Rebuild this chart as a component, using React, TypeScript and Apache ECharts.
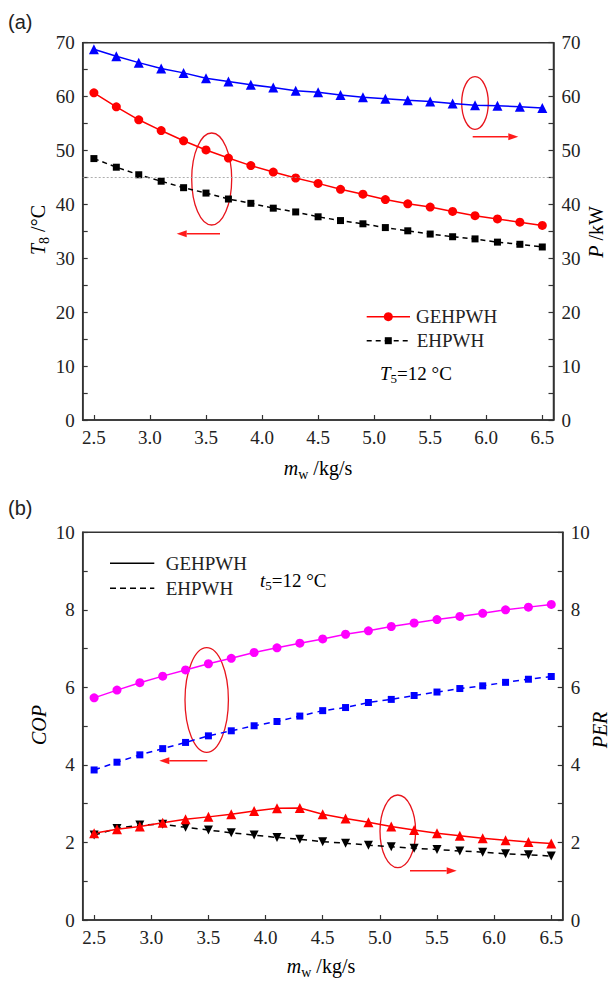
import React, { useEffect, useRef } from "react";
import * as echarts from "echarts";

// ---- data ----
const massFlow = [2.5, 2.7, 2.9, 3.1, 3.3, 3.5, 3.7, 3.9, 4.1, 4.3, 4.5, 4.7, 4.9, 5.1, 5.3, 5.5, 5.7, 5.9, 6.1, 6.3, 6.5];
const xTicks = [2.5, 3.0, 3.5, 4.0, 4.5, 5.0, 5.5, 6.0, 6.5];
// panel (a)
const powerGEHPWH = [68.8, 67.5, 66.3, 65.2, 64.4, 63.4, 62.8, 62.2, 61.7, 61.1, 60.8, 60.3, 59.9, 59.6, 59.3, 59.1, 58.7, 58.4, 58.3, 58.1, 57.9];
const t8GEHPWH = [60.7, 58.1, 55.7, 53.7, 51.8, 50.1, 48.6, 47.2, 46.0, 44.9, 43.9, 42.8, 41.9, 40.9, 40.1, 39.5, 38.7, 37.9, 37.3, 36.7, 36.1];
const t8EHPWH = [48.5, 46.9, 45.5, 44.3, 43.1, 42.1, 41.0, 40.2, 39.3, 38.6, 37.7, 37.0, 36.4, 35.7, 35.1, 34.5, 34.0, 33.6, 33.0, 32.6, 32.1];
const t8Reference = 45;
// panel (b)
const copGEHPWH = [5.73, 5.93, 6.12, 6.29, 6.45, 6.61, 6.75, 6.9, 7.02, 7.14, 7.25, 7.37, 7.46, 7.57, 7.66, 7.75, 7.83, 7.91, 8.0, 8.07, 8.14];
const copEHPWH = [3.87, 4.07, 4.26, 4.42, 4.58, 4.75, 4.88, 5.01, 5.12, 5.26, 5.4, 5.48, 5.61, 5.69, 5.79, 5.88, 5.97, 6.04, 6.13, 6.21, 6.28];
const perGEHPWH = [2.24, 2.34, 2.41, 2.51, 2.6, 2.66, 2.73, 2.81, 2.88, 2.89, 2.73, 2.62, 2.52, 2.41, 2.32, 2.24, 2.17, 2.11, 2.06, 2.01, 1.97];
const perEHPWH = [2.19, 2.36, 2.45, 2.47, 2.39, 2.32, 2.25, 2.19, 2.13, 2.08, 2.02, 1.98, 1.93, 1.89, 1.85, 1.82, 1.78, 1.75, 1.71, 1.68, 1.65];

const SERIF = "Liberation Serif";
const AX = "#333";

const pairs = (ys: number[]) => massFlow.map((x, i) => [x, ys[i]]);

function xAxisFor(gridIndex: number) {
  return {
    type: "value",
    gridIndex,
    min: 2.4,
    max: 6.6,
    axisLine: { show: true, lineStyle: { color: AX, width: 1.5 } },
    axisTick: { show: true, inside: true, length: 5, customValues: xTicks, lineStyle: { color: AX, width: 1.2 } },
    axisLabel: {
      customValues: xTicks,
      formatter: (v: number) => v.toFixed(1),
      fontFamily: SERIF,
      fontSize: 19,
      color: "#222",
      margin: 8,
    },
    splitLine: { show: false },
  };
}

function yAxisFor(gridIndex: number, position: string, max: number, interval: number) {
  return {
    type: "value",
    gridIndex,
    position,
    min: 0,
    max,
    interval,
    axisLine: { show: true, onZero: false, lineStyle: { color: AX, width: 1.5 } },
    axisTick: { show: true, inside: true, length: 5, lineStyle: { color: AX, width: 1.2 } },
    minorTick: { show: true, splitNumber: 2, length: 5, lineStyle: { color: AX, width: 1.2 } },
    axisLabel: { fontFamily: SERIF, fontSize: 19, color: "#222", margin: 8 },
    splitLine: { show: false },
    minorSplitLine: { show: false },
  };
}

const richBase = {
  i: { fontFamily: SERIF, fontStyle: "italic", fontSize: 20, lineHeight: 26, color: "#222" },
  s: { fontFamily: SERIF, fontSize: 14, lineHeight: 14, verticalAlign: "bottom", color: "#222" },
  n: { fontFamily: SERIF, fontSize: 20, lineHeight: 26, color: "#222" },
};
const richLegend = {
  i: { fontFamily: SERIF, fontStyle: "italic", fontSize: 19, lineHeight: 24, color: "#222" },
  s: { fontFamily: SERIF, fontSize: 13, lineHeight: 13, verticalAlign: "bottom", color: "#222" },
  n: { fontFamily: SERIF, fontSize: 19, lineHeight: 24, color: "#222" },
};

function titleText(text: string, x: number, y: number, rotate: boolean) {
  return {
    type: "text",
    x,
    y,
    rotation: rotate ? Math.PI / 2 : 0,
    style: { text, rich: richBase, align: "center", verticalAlign: "middle" },
  };
}

function ellipse(cx: number, cy: number, rx: number, ry: number) {
  return {
    type: "ellipse",
    shape: { cx, cy, rx, ry },
    style: { fill: "none", stroke: "#e8141c", lineWidth: 1.3 },
  };
}

function arrow(x1: number, x2: number, y: number) {
  const dir = x2 > x1 ? 1 : -1;
  const hx = x2 - dir * 10;
  return [
    { type: "line", shape: { x1, y1: y, x2: hx, y2: y }, style: { stroke: "#ff1a1a", lineWidth: 1.5 } },
    {
      type: "polygon",
      shape: { points: [[x2, y], [hx, y - 3.5], [hx, y + 3.5]] },
      style: { fill: "#ff1a1a" },
    },
  ];
}

function legendText(text: string, x: number, y: number) {
  return {
    type: "text",
    x,
    y,
    style: { text, fontFamily: SERIF, fontSize: 19, fill: "#222", align: "left", verticalAlign: "middle" },
  };
}

export default function App() {
  const ref = useRef<HTMLDivElement>(null);
  useEffect(() => {
    if (!ref.current) return;
    const chart = echarts.init(ref.current, undefined, { renderer: "svg" });
    const option: any = {
      animation: false,
      backgroundColor: "#fff",
      grid: [
        { left: 82.7, top: 42.7, right: 59.5, height: 377.3, show: true, borderColor: AX, borderWidth: 1.5, backgroundColor: "transparent" },
        { left: 82.7, top: 532.3, right: 50.3, height: 387.7, show: true, borderColor: AX, borderWidth: 1.5, backgroundColor: "transparent" },
      ],
      xAxis: [xAxisFor(0), xAxisFor(1)],
      yAxis: [
        yAxisFor(0, "left", 70, 10),
        yAxisFor(0, "right", 70, 10),
        yAxisFor(1, "left", 10, 2),
        yAxisFor(1, "right", 10, 2),
      ],
      series: [
        {
          name: "P GEHPWH",
          type: "line",
          xAxisIndex: 0,
          yAxisIndex: 1,
          data: pairs(powerGEHPWH),
          symbol: "triangle",
          symbolSize: 10,
          itemStyle: { color: "#0000ff" },
          lineStyle: { color: "#0000ff", width: 1.5 },
        },
        {
          name: "GEHPWH",
          type: "line",
          xAxisIndex: 0,
          yAxisIndex: 0,
          data: pairs(t8GEHPWH),
          symbol: "circle",
          symbolSize: 9,
          itemStyle: { color: "#ff0000" },
          lineStyle: { color: "#ff0000", width: 1.5 },
          markLine: {
            silent: true,
            symbol: "none",
            label: { show: false },
            lineStyle: { color: "#999", type: [2, 2], width: 0.8 },
            data: [{ yAxis: t8Reference }],
          },
        },
        {
          name: "EHPWH",
          type: "line",
          xAxisIndex: 0,
          yAxisIndex: 0,
          data: pairs(t8EHPWH),
          symbol: "rect",
          symbolSize: 7,
          itemStyle: { color: "#000" },
          lineStyle: { color: "#000", width: 1.5, type: [5, 4] },
        },
        {
          name: "COP GEHPWH",
          type: "line",
          xAxisIndex: 1,
          yAxisIndex: 2,
          data: pairs(copGEHPWH),
          symbol: "circle",
          symbolSize: 9,
          itemStyle: { color: "#ff00ff" },
          lineStyle: { color: "#ff00ff", width: 1.5 },
        },
        {
          name: "COP EHPWH",
          type: "line",
          xAxisIndex: 1,
          yAxisIndex: 2,
          data: pairs(copEHPWH),
          symbol: "rect",
          symbolSize: 7,
          itemStyle: { color: "#0000ff" },
          lineStyle: { color: "#0000ff", width: 1.5, type: [6, 5] },
        },
        {
          name: "PER EHPWH",
          type: "line",
          xAxisIndex: 1,
          yAxisIndex: 3,
          data: pairs(perEHPWH),
          symbol: "triangle",
          symbolRotate: 180,
          symbolSize: 9,
          itemStyle: { color: "#000" },
          lineStyle: { color: "#000", width: 1.5, type: [6, 5] },
        },
        {
          name: "PER GEHPWH",
          type: "line",
          xAxisIndex: 1,
          yAxisIndex: 3,
          data: pairs(perGEHPWH),
          symbol: "triangle",
          symbolSize: 10,
          itemStyle: { color: "#ff0000" },
          lineStyle: { color: "#ff0000", width: 1.5 },
        },
      ],
      graphic: [
        // panel labels
        { type: "text", x: 8, y: 22, style: { text: "(a)", fontFamily: "Liberation Sans", fontSize: 20, fill: "#222", verticalAlign: "middle" } },
        { type: "text", x: 8, y: 508, style: { text: "(b)", fontFamily: "Liberation Sans", fontSize: 20, fill: "#222", verticalAlign: "middle" } },
        // axis titles
        titleText("{i|T}{s|8}{n| /°C}", 38, 230, true),
        titleText("{i|P}{n| /kW}", 596, 232, true),
        titleText("{i|m}{s|w}{n| /kg/s}", 318, 468, false),
        titleText("{i|COP}", 39, 725, true),
        titleText("{i|PER}", 600, 730, true),
        titleText("{i|m}{s|w}{n| /kg/s}", 321, 966, false),
        // annotations (a)
        ellipse(211.7, 179, 20, 46),
        ...arrow(220, 176.7, 233.7),
        ellipse(475, 103, 13.3, 26.3),
        ...arrow(472.7, 518.3, 136.7),
        // annotations (b)
        ellipse(206.7, 700, 21.7, 52.3),
        ...arrow(207.3, 159.3, 760.7),
        ellipse(397.8, 831.3, 17.8, 36.3),
        ...arrow(410, 456.7, 870.7),
        // legend (a)
        { type: "line", shape: { x1: 366.7, y1: 316.7, x2: 410, y2: 316.7 }, style: { stroke: "#ff0000", lineWidth: 1.5 } },
        { type: "circle", shape: { cx: 388.3, cy: 316.7, r: 4.5 }, style: { fill: "#ff0000" } },
        legendText("GEHPWH", 416, 316.7),
        { type: "line", shape: { x1: 366.7, y1: 340.7, x2: 410, y2: 340.7 }, style: { stroke: "#000", lineWidth: 1.5, lineDash: [5, 4] } },
        { type: "rect", shape: { x: 384.8, y: 337.2, width: 7, height: 7 }, style: { fill: "#000" } },
        legendText("EHPWH", 416.7, 340.7),
        { type: "text", x: 380, y: 373.3, style: { text: "{i|T}{s|5}{n|=12 °C}", rich: richLegend, align: "left", verticalAlign: "middle" } },
        // legend (b)
        { type: "line", shape: { x1: 110, y1: 563.3, x2: 154.3, y2: 563.3 }, style: { stroke: "#000", lineWidth: 1.5 } },
        legendText("GEHPWH", 165.7, 563.3),
        { type: "line", shape: { x1: 110, y1: 588.3, x2: 154.3, y2: 588.3 }, style: { stroke: "#000", lineWidth: 1.5, lineDash: [6, 4] } },
        legendText("EHPWH", 165.7, 588.3),
        { type: "text", x: 260, y: 580, style: { text: "{i|t}{s|5}{n|=12 °C}", rich: richLegend, align: "left", verticalAlign: "middle" } },
      ],
    };
    chart.setOption(option);
    return () => chart.dispose();
  }, []);
  return (
    <div
      ref={ref}
      style={{ position: "absolute", left: 0, top: 0, width: 613, height: 987, background: "#fff" }}
    />
  );
}
